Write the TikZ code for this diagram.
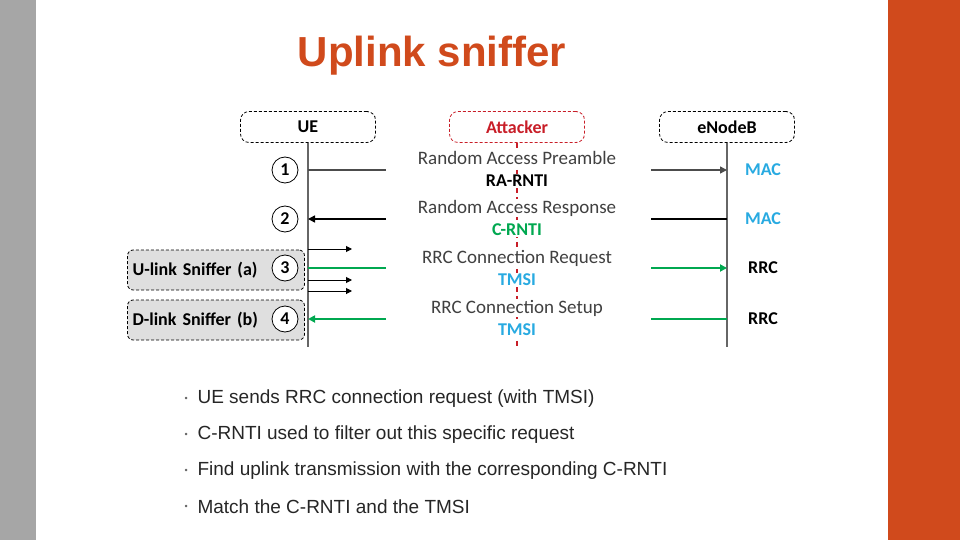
\documentclass[tikz,border=0pt]{standalone}
\usepackage{fontspec}
\setmainfont{Liberation Sans}
\newfontfamily\diagfont{Carlito}
\usetikzlibrary{positioning,arrows.meta}
\definecolor{titlered}{RGB}{208,74,28}
\definecolor{stripgray}{RGB}{166,166,166}
\definecolor{msggreen}{RGB}{0,168,80}
\definecolor{layerblue}{RGB}{40,170,225}
\definecolor{atkred}{RGB}{200,30,40}
\begin{document}
\begin{tikzpicture}[x=1pt,y=-1pt,
    entity/.style={draw, densely dashed, thick, rounded corners=3mm, minimum width=135pt,
        minimum height=31pt, font=\diagfont\bfseries\fontsize{18}{18}\selectfont},
    stepno/.style={circle, draw, thick, fill=white, minimum size=26pt, inner sep=0pt,
        font=\diagfont\bfseries\fontsize{18}{18}\selectfont},
    sniffer/.style={draw, densely dashed, thick, fill=gray!25, rounded corners=2mm,
        minimum width=177pt, minimum height=40pt, text width=167pt, align=left,
        font=\diagfont\bfseries\fontsize{18}{18}\selectfont},
    msg/.style={font=\diagfont\fontsize{19}{19}\selectfont, text=black!75, fill=white, inner sep=1pt},
    tag/.style={font=\diagfont\bfseries\fontsize{18}{18}\selectfont},
    life/.style={line width=1.5pt, black!60},
    arr/.style={-{Triangle[length=7pt,width=7pt]}, line width=1.5pt},
    bullet/.style={anchor=west, font=\fontsize{19}{19}\selectfont, text=black!85}
]
\useasboundingbox (0,0) rectangle (960,540);
\fill[stripgray] (0,0) rectangle (36,540);
\fill[titlered] (888,0) rectangle (960,540);
\node (title) [text=titlered, font=\bfseries\fontsize{42}{42}\selectfont] at (432,56) {Uplink sniffer};

% sniffer boxes
\node (snifA) [sniffer] at (216,270) {U-link Sniffer (a)};
\node (snifB) [sniffer] at (216,320) {D-link Sniffer (b)};

% entities
\node (ue) [entity] at (308,127) {UE};
\node (atk) [entity, draw=atkred, text=atkred] at (517,127) {Attacker};
\node (enb) [entity] at (727,127) {eNodeB};
\coordinate (ueEnd) at (308,347);
\coordinate (atkEnd) at (517,347);
\coordinate (enbEnd) at (727,347);
\draw[life] (ue) -- (ueEnd);
\draw[life] (enb) -- (enbEnd);
\draw[atkred, line width=2pt, dash pattern=on 5pt off 4pt] (atk) -- (atkEnd);

% steps
\foreach \n/\y in {1/170,2/219,3/268,4/319}
    \node (s\n) [stepno] at (285,\y) {\n};

% message coordinates
\foreach \n/\y in {1/170,2/219,3/268,4/319}{
    \coordinate (u\n) at (308,\y);
    \coordinate (ul\n) at (386,\y);
    \coordinate (er\n) at (651,\y);
    \coordinate (e\n) at (727,\y);
}
\draw[black!70, line width=1.5pt] (u1) -- (ul1);
\draw[arr, black!70] (er1) -- (e1);
\draw[arr, black] (ul2) -- (u2);
\draw[black, line width=1.5pt] (er2) -- (e2);
\draw[msggreen, line width=2.5pt] (u3) -- (ul3);
\draw[arr, msggreen, line width=2.5pt] (er3) -- (e3);
\draw[arr, msggreen, line width=2.5pt] (ul4) -- (u4);
\draw[msggreen, line width=2.5pt] (er4) -- (e4);

% small uplink arrows
\foreach \y in {249,280,291}{
    \coordinate (pa\y) at (308,\y);
    \coordinate (pb\y) at (352,\y);
    \draw[-{Triangle[length=6pt,width=6pt]}, line width=1pt] (pa\y) -- (pb\y);
}

% message labels
\node (m1) [msg] at (517,158) {Random Access Preamble};
\node (i1) [tag, fill=white, inner sep=1pt] at (517,181) {RA-RNTI};
\node (m2) [msg] at (517,208) {Random Access Response};
\node (i2) [tag, fill=white, inner sep=1pt, text=msggreen] at (517,230) {C-RNTI};
\node (m3) [msg] at (517,258) {RRC Connection Request};
\node (i3) [tag, fill=white, inner sep=1pt, text=layerblue] at (517,280) {TMSI};
\node (m4) [msg] at (517,308) {RRC Connection Setup};
\node (i4) [tag, fill=white, inner sep=1pt, text=layerblue] at (517,330) {TMSI};

% layer labels
\node (l1) [tag, text=layerblue] at (763,170) {MAC};
\node (l2) [tag, text=layerblue] at (763,219) {MAC};
\node (l3) [tag] at (763,268) {RRC};
\node (l4) [tag] at (763,319) {RRC};

% bullets
\foreach \t/\y in {{UE sends RRC connection request (with TMSI)}/399,
    {C-RNTI used to filter out this specific request}/435,
    {Find uplink transmission with the corresponding C-RNTI}/471,
    {Match the C-RNTI and the TMSI}/507}{
    \node [bullet, font=\fontsize{9}{9}\selectfont, text=black!60] at (181,\y) {\textbullet};
    \node [bullet] at (194,\y) {\t};
}
\end{tikzpicture}
\end{document}
